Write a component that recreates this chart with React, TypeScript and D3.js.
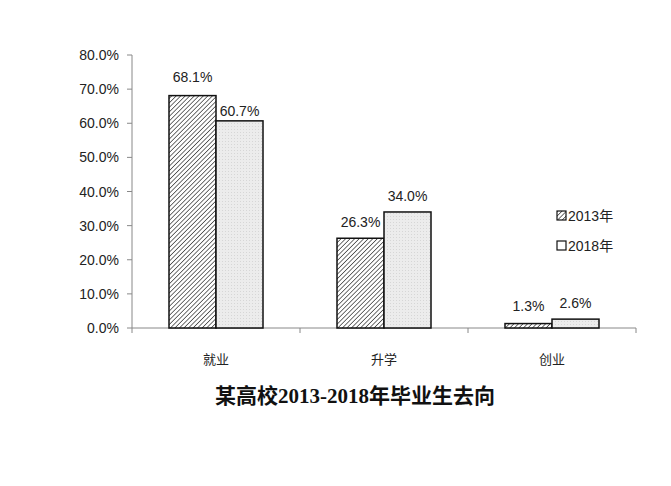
import React from "react";
import * as d3 from "d3";

const categories = ["就业", "升学", "创业"];
const seriesNames = ["2013年", "2018年"];
const values2013 = [68.1, 26.3, 1.3];
const values2018 = [60.7, 34.0, 2.6];
const yTicks = [0, 10, 20, 30, 40, 50, 60, 70, 80];
const title = "某高校2013-2018年毕业生去向";

export default function App() {
  const W = 671, H = 486;
  const x0 = 132, x1 = 636, yTop = 55, yBot = 328;
  const y = d3.scaleLinear().domain([0, 80]).range([yBot, yTop]);
  const xc = d3.scaleBand().domain(categories).range([x0, x1]).paddingInner(0).paddingOuter(0);
  const bw = 47;
  const series = [values2013, values2018];
  const labelGap = [[14, 5], [11, 11], [13, 11]];
  const font = "'Liberation Sans', Arial, 'Noto Sans CJK SC', sans-serif";

  return (
    <div style={{ margin: -8, width: W, height: H, background: "#fff" }}>
      <svg width={W} height={H} style={{ display: "block" }}>
        <defs>
          <pattern id="hatch" patternUnits="userSpaceOnUse" width="3.2" height="3.2" patternTransform="rotate(45)">
            <rect width="3.2" height="3.2" fill="#ffffff" />
            <line x1="0" y1="0" x2="0" y2="3.2" stroke="#333" strokeWidth="1.4" />
          </pattern>
          <pattern id="dots" patternUnits="userSpaceOnUse" width="3" height="3">
            <rect width="3" height="3" fill="#ececec" />
            <rect width="1" height="1" fill="#d6d6d6" />
          </pattern>
        </defs>
        <rect width={W} height={H} fill="#fff" />
        {/* y axis */}
        <line x1={x0} x2={x0} y1={yTop} y2={yBot} stroke="#888" />
        {yTicks.map((t) => (
          <g key={t}>
            <line x1={x0 - 5} x2={x0} y1={y(t)} y2={y(t)} stroke="#888" />
            <text x={x0 - 13} y={y(t) + 5} textAnchor="end" fontSize={14} fill="#222" fontFamily={font}>
              {t.toFixed(1)}%
            </text>
          </g>
        ))}
        {/* x axis */}
        <line x1={x0} x2={x1} y1={yBot} y2={yBot} stroke="#888" />
        {categories.map((c) => (
          <line key={c} x1={xc(c)!} x2={xc(c)!} y1={yBot} y2={yBot + 5} stroke="#888" />
        ))}
        <line x1={x1} x2={x1} y1={yBot} y2={yBot + 5} stroke="#888" />
        {categories.map((c, i) => {
          const cx = xc(c)! + xc.bandwidth() / 2;
          return (
            <g key={c}>
              {series.map((vals, s) => {
                const bx = cx - bw + s * bw;
                const v = vals[i];
                return (
                  <g key={s}>
                    <rect x={bx} y={y(v)} width={bw} height={yBot - y(v)} fill={s === 0 ? "url(#hatch)" : "url(#dots)"} stroke="#111" strokeWidth={1.5} />
                    <text x={bx + bw / 2} y={y(v) - labelGap[i][s]} textAnchor="middle" fontSize={14} fill="#222" fontFamily={font}>
                      {v.toFixed(1)}%
                    </text>
                  </g>
                );
              })}
              <text x={cx} y={364} textAnchor="middle" fontSize={13} fill="#222" fontFamily={font}>{c}</text>
            </g>
          );
        })}
        {/* legend */}
        {seriesNames.map((n, s) => (
          <g key={n} transform={`translate(557, ${211 + s * 30})`}>
            <rect x={0} y={0} width={9} height={9} fill={s === 0 ? "url(#hatch)" : "#fff"} stroke="#111" strokeWidth={1.2} />
            <text x={11} y={10} fontSize={14} fill="#222" fontFamily={font}>{n}</text>
          </g>
        ))}
        {/* title */}
        <text x={355} y={403} textAnchor="middle" fontSize={21} fontWeight="bold" fill="#111" fontFamily="'Liberation Serif', 'Noto Sans CJK SC', serif">
          {title}
        </text>
      </svg>
    </div>
  );
}
